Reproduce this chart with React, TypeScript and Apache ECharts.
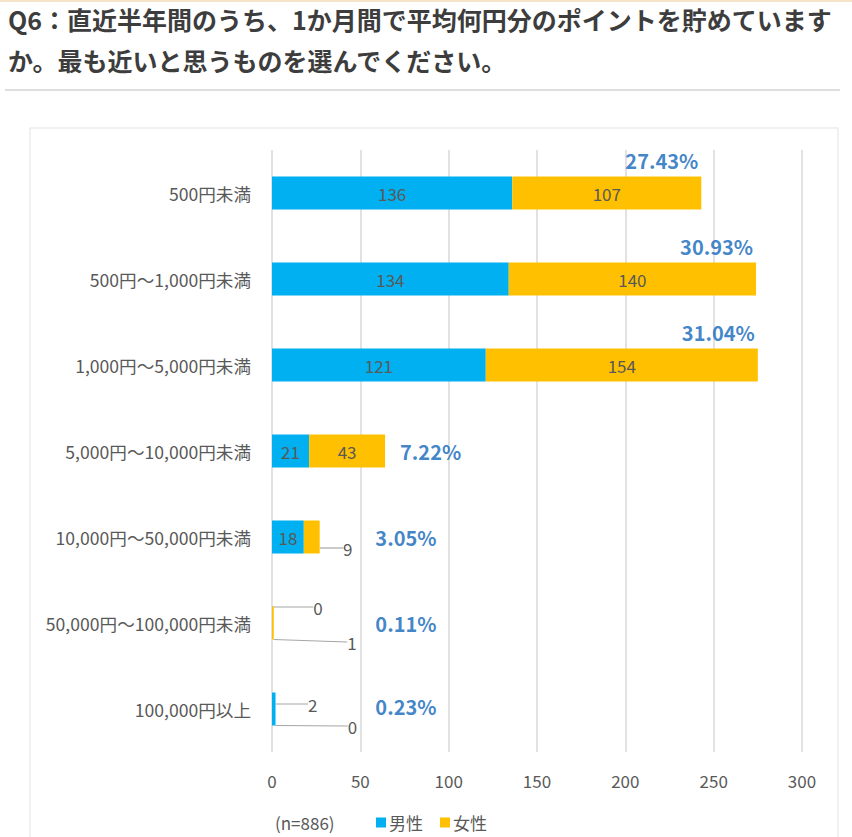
import { useEffect, useRef } from "react";
import * as echarts from "echarts";

// 回答区分と男女別の回答数
const categories = [
  "500円未満",
  "500円〜1,000円未満",
  "1,000円〜5,000円未満",
  "5,000円〜10,000円未満",
  "10,000円〜50,000円未満",
  "50,000円〜100,000円未満",
  "100,000円以上",
];
const male = [136, 134, 121, 21, 18, 0, 2];
const female = [107, 140, 154, 43, 9, 1, 0];
// 全体に占める割合（%）
const shares = [27.43, 30.93, 31.04, 7.22, 3.05, 0.11, 0.23];
const sampleSize = 886;
const xTicks = [0, 50, 100, 150, 200, 250, 300];

const FONT = '"Noto Sans CJK JP", "Noto Sans", sans-serif';
const TEXT = "#595959";

// 小さな棒の数値ラベルを外に出すためのずらし量 [dx, dy]
const maleCallouts: Record<number, [number, number]> = { 5: [46, -16], 6: [39, -5] };
const femaleCallouts: Record<number, [number, number]> = { 4: [36, 11], 5: [79, 19], 6: [77, 17] };

function withCallouts(values: number[], callouts: Record<number, [number, number]>) {
  return values.map((v, i) =>
    callouts[i]
      ? { value: v, labelLine: { show: true, lineStyle: { color: "#a6a6a6", width: 1.2 } } }
      : v
  );
}

export default function App() {
  const ref = useRef<HTMLDivElement>(null);

  useEffect(() => {
    if (!ref.current) return;
    const chart = echarts.init(ref.current, null, { renderer: "svg" });

    const totals = male.map((m, i) => m + female[i]);
    const axisMax = xTicks[xTicks.length - 1];
    const step = xTicks[1] - xTicks[0];

    const shareData = totals.map((t, i) => {
      const big = t > 200;
      return {
        value: [big ? t : Math.max(t, step), i],
        label: big
          ? { align: "right", offset: [-3, -33] }
          : { align: "left", offset: [15, i === 6 ? -3 : 0] },
      };
    });

    chart.setOption({
      animation: false,
      textStyle: { fontFamily: FONT },
      graphic: [
        { type: "rect", shape: { x: 0, y: 0, width: 852, height: 2 }, style: { fill: "#f5e4c8" } },
        {
          type: "text",
          left: 8,
          top: 6,
          style: {
            text: "Q6：直近半年間のうち、1か月間で平均何円分のポイントを貯めています",
            font: `bold 25px ${FONT}`,
            fill: "#3d3d3d",
          },
        },
        {
          type: "text",
          left: 8,
          top: 47,
          style: {
            text: "か。最も近いと思うものを選んでください。",
            font: `bold 25px ${FONT}`,
            fill: "#3d3d3d",
          },
        },
        {
          type: "line",
          shape: { x1: 5, y1: 90, x2: 840, y2: 90 },
          style: { stroke: "#dedede", lineWidth: 2 },
        },
        {
          type: "rect",
          shape: { x: 30, y: 128, width: 808, height: 740 },
          style: { fill: "none", stroke: "#ededed", lineWidth: 1.5 },
        },
        {
          type: "text",
          left: 275,
          top: 814,
          style: { text: `(n=${sampleSize})`, font: `17px ${FONT}`, fill: TEXT },
        },
      ],
      legend: {
        left: 376,
        top: 814,
        padding: 0,
        icon: "rect",
        itemWidth: 10,
        itemHeight: 10,
        itemGap: 17,
        textStyle: { fontSize: 17, color: TEXT, fontFamily: FONT, padding: [0, 0, 0, -2] },
        data: ["男性", "女性"],
      },
      grid: { left: 272, right: 50, top: 150, bottom: 85, containLabel: false },
      xAxis: {
        type: "value",
        min: 0,
        max: axisMax,
        interval: step,
        axisLine: { show: false },
        axisTick: { show: false },
        axisLabel: { color: TEXT, fontSize: 17, margin: 20, fontFamily: FONT },
        splitLine: { show: true, lineStyle: { color: "#d9d9d9", width: 1.5 } },
      },
      yAxis: {
        type: "category",
        inverse: true,
        data: categories,
        axisLine: { show: false },
        axisTick: { show: false },
        axisLabel: { color: TEXT, fontSize: 17.6, margin: 21, fontFamily: FONT },
      },
      series: [
        {
          name: "男性",
          type: "bar",
          stack: "total",
          barWidth: 33,
          itemStyle: { color: "#00b0f0" },
          label: { show: true, position: "inside", color: TEXT, fontSize: 17, fontFamily: FONT },
          labelLayout: (p: any) => {
            const o = maleCallouts[p.dataIndex];
            return o ? { dx: o[0], dy: o[1] } : {};
          },
          data: withCallouts(male, maleCallouts),
        },
        {
          name: "女性",
          type: "bar",
          stack: "total",
          barWidth: 33,
          itemStyle: { color: "#ffc000" },
          label: { show: true, position: "inside", color: TEXT, fontSize: 17, fontFamily: FONT },
          labelLayout: (p: any) => {
            const o = femaleCallouts[p.dataIndex];
            return o ? { dx: o[0], dy: o[1] } : {};
          },
          data: withCallouts(female, femaleCallouts),
        },
        {
          name: "割合",
          type: "scatter",
          symbolSize: 1,
          itemStyle: { color: "rgba(0,0,0,0)" },
          silent: true,
          label: {
            show: true,
            position: "inside",
            verticalAlign: "middle",
            color: "#0f66bb",
            fontSize: 20,
            fontWeight: "bold",
            fontFamily: FONT,
            formatter: (p: any) => `${shares[p.dataIndex].toFixed(2)}%`,
          },
          data: shareData,
        },
      ],
    });

    return () => chart.dispose();
  }, []);

  return (
    <div
      ref={ref}
      style={{ position: "fixed", left: 0, top: 0, width: 852, height: 837, background: "#fff" }}
    />
  );
}
